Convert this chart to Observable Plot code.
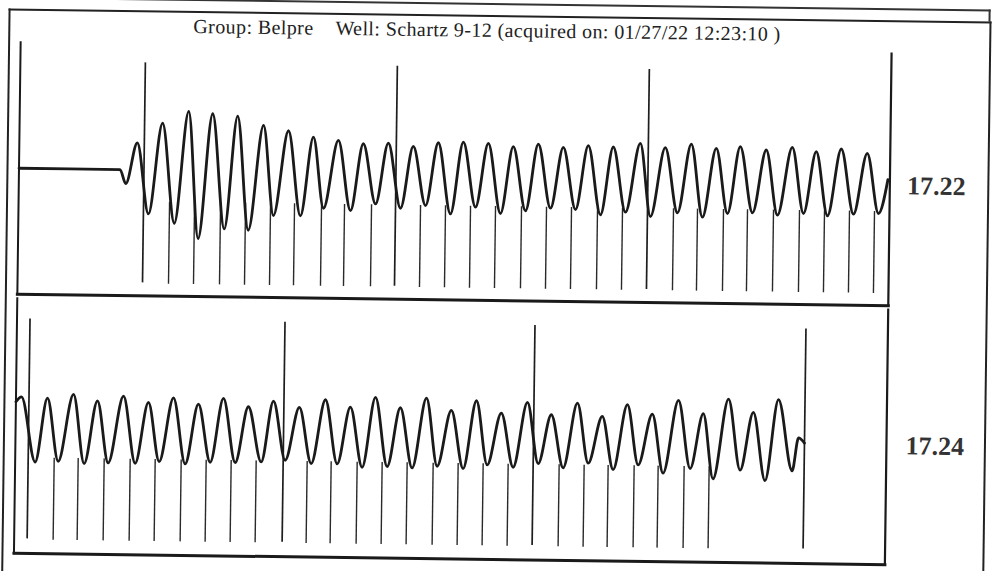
<!DOCTYPE html>
<html>
<head>
<meta charset="utf-8">
<script src="https://cdn.jsdelivr.net/npm/d3@7"></script>
<script src="https://cdn.jsdelivr.net/npm/@observablehq/plot@0.6"></script>
<style>
  html, body { margin: 0; padding: 0; background: #fff; overflow: hidden; }
  #page { position: relative; width: 993px; height: 571px; transform: rotate(0.75deg); transform-origin: 496.5px 285.5px; }
  .abs { position: absolute; }
  #title { left: 190px; top: 19px; font-family: "Liberation Serif", "Times New Roman", serif; font-size: 20px; letter-spacing: 0.4px; color: #222; white-space: pre; }
  .depth { font-family: "Liberation Serif", "Times New Roman", serif; font-weight: bold; font-size: 26px; color: #333; transform: translate(-50%, -50%); }
  #outer { left: 5px; top: 15px; width: 979px; height: 620px; border: 2px solid #222; border-bottom: none; }
  #strip { left: -10px; top: 3px; width: 995px; height: 10px; border-top: 2px solid #333; border-right: 2px solid #333; }
  .panel { left: 9px; }
</style>
</head>
<body>
<div id="page">
  <div id="strip" class="abs"></div>
  <div id="outer" class="abs"></div>
  <div id="title" class="abs"></div>
  <div id="p1" class="abs panel" style="top:40px"></div>
  <div id="p2" class="abs panel" style="top:296px"></div>
  <div id="d1" class="abs depth" style="left:935px; top:181px"></div>
  <div id="d2" class="abs depth" style="left:937px; top:441px"></div>
</div>
<script>
// ---- text ----
const groupName = "Belpre";
const wellName = "Schartz 9-12";
const acquired = "01/27/22 12:23:10";
const depthLabels = ["17.22", "17.24"];

// ---- trace 1 (time units, amplitude) : extrema ----
const t1 = [0, 101, 107, 118, 130, 143, 156, 169, 180, 193, 206, 218, 230, 244, 255, 269, 282, 294, 305, 319, 332, 344, 357, 369, 382, 394, 407, 419, 432, 444, 457, 469, 482, 494, 507, 519, 532, 544, 557, 569, 582, 594, 607, 621, 632, 646, 659, 672, 684, 697, 709, 721, 734, 747, 759, 773, 785, 797, 809, 822, 835, 848, 860, 869];
const a1 = [0, 0, -14, 27, -44, 47, -53, 59, -68, 57, -58, 55, -59, 46, -44, 41, -44, 35, -36, 32, -38, 29, -31, 30, -35, 27, -32, 31, -40, 32, -33, 31, -39, 28, -36, 31, -33, 28, -34, 30, -39, 29, -36, 33, -40, 29, -36, 33, -40, 29, -36, 31, -35, 28, -37, 31, -35, 27, -37, 30, -35, 26, -34, 0];
const collarShort1 = [151, 176, 202, 227, 252, 276, 303, 326, 353, 402, 427, 452, 477, 503, 528, 553, 579, 604, 655, 679, 705, 729, 755, 781, 806, 831, 856];
const collarTall1 = [125, 377, 629];

// ---- trace 2 ----
const t2 = [0, 5.5, 20, 31.5, 43, 57.5, 69, 81.5, 93, 107.5, 120, 132.5, 144, 157.5, 170, 182.5, 195, 207.5, 220, 232.5, 246, 257.5, 270, 283.5, 296, 309.5, 322, 334.5, 347, 359.5, 372, 384.5, 397, 410.5, 422, 435.5, 448, 460.5, 472, 485.5, 498, 511.5, 523, 535.5, 548, 561.5, 573, 586.5, 598, 611.5, 623, 636.5, 648, 662.5, 675, 687.5, 698, 712.5, 725, 737.5, 750, 762.5, 777, 783, 789];
const a2 = [24, 29, -36, 28, -35, 32, -37, 26, -36, 31, -36, 25, -34, 30, -36, 24, -34, 30, -34, 22, -33, 28, -31, 22, -34, 30, -34, 23, -37, 33, -36, 23, -37, 33, -35, 21, -37, 31, -33, 19, -35, 30, -31, 18, -35, 30, -30, 17, -36, 29, -31, 20, -39, 34, -34, 21, -44, 36, -35, 23, -45, 36, -35, -2, -7];
const collarShort2 = [39, 63, 89, 115, 140, 166, 191, 216, 241, 292, 316, 342, 367, 392, 418, 443, 468, 493, 544, 569, 593, 619, 643, 669, 694];
const collarTall2 = [13, 268, 518, 789];

// extents of the collar marks (amplitude units)
const shortTop = -32, shortBottom = -114, tallTop = 107, tallBottom = -113;
const timeDomain = [0, 871];

document.getElementById("title").innerHTML =
  `Group: ${groupName}<span style="display:inline-block;width:22px"></span>Well: ${wellName} (acquired on: ${acquired} )`;
document.getElementById("d1").textContent = depthLabels[0];
document.getElementById("d2").textContent = depthLabels[1];

function panel(t, a, shortM, tallM, half, innerH) {
  const wave = t.map((x, i) => ({t: x, a: a[i]}));
  const m = 8;
  return Plot.plot({
    width: 871 + 2 * m,
    height: innerH + 2 * m,
    marginTop: m, marginBottom: m, marginLeft: m, marginRight: m,
    x: {domain: timeDomain, axis: null},
    y: {domain: [-half, half], axis: null},
    style: {background: "transparent", overflow: "visible"},
    marks: [
      Plot.ruleX(shortM, {x: d => d, y1: shortTop, y2: shortBottom, stroke: "#2a2a2a", strokeWidth: 1.4}),
      Plot.ruleX(tallM, {x: d => d, y1: tallTop, y2: tallBottom, stroke: "#1e1e1e", strokeWidth: 1.7}),
      Plot.line(wave, {x: "t", y: "a", curve: "monotone-x", stroke: "#1a1a1a", strokeWidth: 2.8}),
      Plot.frame({anchor: "left", stroke: "#1a1a1a", strokeWidth: 2}),
      Plot.frame({anchor: "right", stroke: "#1a1a1a", strokeWidth: 2.2}),
      Plot.frame({anchor: "bottom", stroke: "#1a1a1a", strokeWidth: 3})
    ]
  });
}

document.getElementById("p1").appendChild(panel(t1, a1, collarShort1, collarTall1, 126, 252));
document.getElementById("p2").appendChild(panel(t2, a2, collarShort2, collarTall2, 127.5, 255));
</script>
</body>
</html>
